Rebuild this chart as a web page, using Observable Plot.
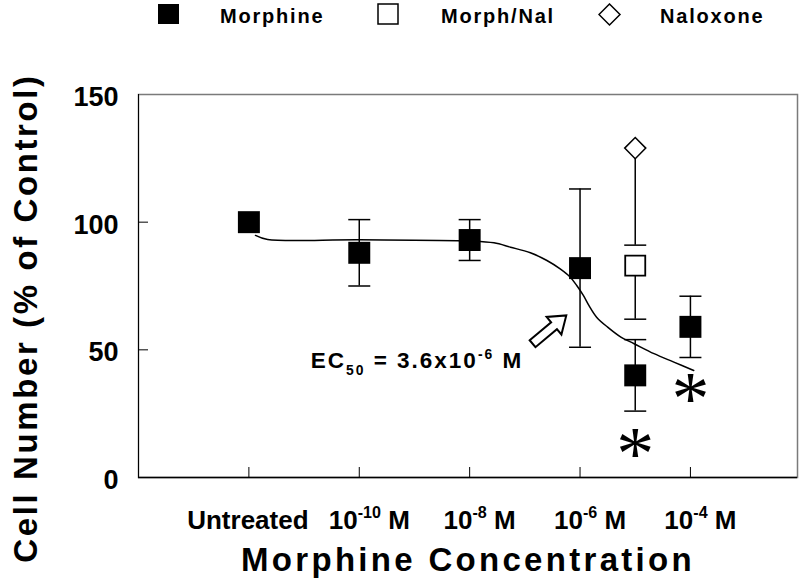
<!DOCTYPE html>
<html><head><meta charset="utf-8">
<script src="https://cdn.jsdelivr.net/npm/d3@7"></script>
<script src="https://cdn.jsdelivr.net/npm/@observablehq/plot@0.6"></script>
<style>
body{margin:0;background:#fff;font-family:"Liberation Sans",Arial,sans-serif;}
#legend{position:relative;width:800px;height:32px;}
#legend svg.sym{position:absolute;top:3px;}
#legend .lab{position:absolute;top:6px;font-weight:bold;font-size:20px;letter-spacing:1.8px;line-height:20px;}
#chart svg{display:block;}
</style></head><body>
<div id="legend"></div>
<div id="chart"></div>
<script>
// ---- data ----
const seriesNames = ["Morphine", "Morph/Nal", "Naloxone"];
const tickPositions = [0, 1, 2, 3, 4];
const tickLabels = ["Untreated", "10^{-10} M", "10^{-8} M", "10^{-6} M", "10^{-4} M"];
const yTicks = [0, 50, 100, 150];
const xTitle = "Morphine Concentration";
const yTitle = "Cell Number (% of Control)";

const morphineX = [0, 1, 2, 3, 3.5, 4];
const morphineY = [100, 88, 93, 82, 40, 59];
const morphineLo = [null, 75, 85, 51, 26, 47];
const morphineHi = [null, 101, 101, 113, 54, 71];

const morphNalX = [3.5];
const morphNalY = [83];
const morphNalLo = [62];
const morphNalHi = [null];

const naloxoneX = [3.5];
const naloxoneY = [129];
const naloxoneLo = [91];
const naloxoneHi = [null];

const fitX = [0.06, 0.17, 1.0, 2.0, 2.22, 2.37, 2.55, 2.70, 2.82, 2.91, 2.97, 3.03, 3.08, 3.15, 3.25, 3.37, 3.49, 3.67, 3.85, 4.03];
const fitY = [94.8, 93.2, 93.1, 92.6, 91.9, 90.2, 88.0, 85.0, 81.7, 78.5, 75.2, 71.3, 67.4, 62.8, 58.9, 55.0, 52.4, 48.5, 45.2, 41.9];

const sigX = [3.5, 4];
const sigY = [12.5, 34];

const ec50Label = ["EC_{50} = 3.6x10^{-6} M"];
const ec50X = [0.56];
const ec50Y = [42.7];

const arrowX = [2.57];
const arrowY = [52.4];

// ---- tables ----
function rows(name, X, Y, Lo, Hi) {
  return X.map((x, i) => ({series: name, x, y: Y[i], lo: Lo[i], hi: Hi[i]}));
}
const morphine = rows(seriesNames[0], morphineX, morphineY, morphineLo, morphineHi);
const morphNal = rows(seriesNames[1], morphNalX, morphNalY, morphNalLo, morphNalHi);
const naloxone = rows(seriesNames[2], naloxoneX, naloxoneY, naloxoneLo, naloxoneHi);
const allPts = [...morphine, ...morphNal, ...naloxone];
const bars = allPts.filter(d => d.lo != null || d.hi != null)
  .map(d => ({x: d.x, y1: d.lo ?? d.y, y2: d.hi ?? d.y}));
const caps = allPts.flatMap(d => [d.lo, d.hi].filter(v => v != null).map(v => ({x: d.x, y: v})));
const fit = fitX.map((x, i) => ({x, y: fitY[i]}));
const ticks = tickPositions.map((x, i) => ({x, label: tickLabels[i]}));
const sig = sigX.map((x, i) => ({x, y: sigY[i]}));
const ec50 = ec50Label.map((t, i) => ({x: ec50X[i], y: ec50Y[i], t}));
const arrows = arrowX.map((x, i) => ({x, y: arrowY[i]}));

const capSymbol = {draw(ctx) { ctx.moveTo(-11, 0); ctx.lineTo(11, 0); }};
const blockArrow = {draw(ctx, l) {
  const hw = 4.5, hh = 11.5, hl = 16;
  ctx.moveTo(-hw, 0); ctx.lineTo(-hw, -(l - hl)); ctx.lineTo(-hh, -(l - hl));
  ctx.lineTo(0, -l); ctx.lineTo(hh, -(l - hl)); ctx.lineTo(hw, -(l - hl));
  ctx.lineTo(hw, 0); ctx.closePath();
}};

const font = "'Liberation Sans', Arial, sans-serif";

const chart = Plot.plot({
  width: 800, height: 548,
  marginLeft: 138, marginRight: 3, marginTop: 62, marginBottom: 103,
  x: {domain: [-1, 4.97], axis: null},
  y: {domain: [0, 150], axis: null},
  style: {fontFamily: font, background: "white", color: "black", overflow: "visible"},
  marks: [
    Plot.frame({stroke: "#7a7a7a", strokeWidth: 1.5}),
    Plot.ruleX([-1], {stroke: "black", strokeWidth: 1}),
    Plot.ruleY([0], {stroke: "black", strokeWidth: 1.5}),
    Plot.ruleX(tickPositions, {y1: 0, y2: 0, insetTop: -10, stroke: "black", strokeWidth: 1}),
    Plot.ruleY(yTicks.slice(1, 3), {x1: -1, x2: -1, insetRight: -10, stroke: "black", strokeWidth: 1}),
    Plot.text(yTicks, {y: d => d, frameAnchor: "left", textAnchor: "end", dx: -20, dy: 3, fontSize: 27, fontWeight: "bold"}),
    Plot.text(ticks, {x: "x", text: "label", filter: d => !d.label.includes("^"), frameAnchor: "bottom", textAnchor: "middle", lineAnchor: "bottom", dy: 51, dx: -1, fontSize: 26, fontWeight: "bold"}),
    Plot.text(ticks, {x: "x", text: "label", filter: d => d.label.includes("^"), frameAnchor: "bottom", textAnchor: "middle", lineAnchor: "bottom", dy: 51, dx: 10, fontSize: 26, fontWeight: "bold"}),
    Plot.text([xTitle], {frameAnchor: "bottom", textAnchor: "middle", lineAnchor: "bottom", dy: 93, fontSize: 33, fontWeight: "bold"}),
    Plot.text([yTitle], {frameAnchor: "left", textAnchor: "middle", lineAnchor: "middle", rotate: -90, dx: -112, dy: 32, fontSize: 33, fontWeight: "bold"}),
    Plot.line(fit, {x: "x", y: "y", curve: "catmull-rom", stroke: "black", strokeWidth: 1.5}),
    Plot.ruleX(bars, {x: "x", y1: "y1", y2: "y2", stroke: "black", strokeWidth: 1.5}),
    Plot.dot(caps, {x: "x", y: "y", symbol: capSymbol, stroke: "black", strokeWidth: 1.5, r: 5}),
    Plot.dot(morphine, {x: "x", y: "y", symbol: "square", r: 12.4, fill: "black", stroke: "none"}),
    Plot.dot(morphNal, {x: "x", y: "y", symbol: "square", r: 11.3, fill: "white", stroke: "black", strokeWidth: 1.8}),
    Plot.dot(naloxone, {x: "x", y: "y", symbol: "diamond2", r: 9.5, fill: "white", stroke: "black", strokeWidth: 1.5}),
    Plot.text(ec50, {x: "x", y: "y", text: "t", textAnchor: "start", lineAnchor: "bottom", fontSize: 22.5, fontWeight: "bold"}),
    Plot.vector(arrows, {x: "x", y: "y", length: 44, rotate: 50, anchor: "start", shape: blockArrow, fill: "white", stroke: "black", strokeWidth: 2, strokeLinejoin: "miter"}),
    Plot.text(sig, {x: "x", y: "y", text: () => "*", fontSize: 76, fontFamily: "'Liberation Serif', serif", textAnchor: "middle", lineAnchor: "middle", dy: 9})
  ]
});
document.getElementById("chart").append(chart);

// ---- rich text (superscripts / subscripts) and letter spacing ----
d3.select(chart).selectAll("text").each(function() {
  const el = this;
  const s = el.textContent;
  if (s === xTitle) el.style.letterSpacing = "3.3px";
  if (s === yTitle) el.style.letterSpacing = "2.6px";
  if (s.startsWith("EC")) el.style.letterSpacing = "2px";
  if (!/[\^_]\{/.test(s)) return;
  const base = parseFloat(getComputedStyle(el).fontSize) || 20;
  const re = /(\^|_)\{([^}]*)\}/g;
  const segs = [];
  let last = 0, m;
  while ((m = re.exec(s))) {
    if (m.index > last) segs.push({t: s.slice(last, m.index), k: "n"});
    segs.push({t: m[2], k: m[1] === "^" ? "sup" : "sub"});
    last = re.lastIndex;
  }
  if (last < s.length) segs.push({t: s.slice(last), k: "n"});
  while (el.firstChild) el.removeChild(el.firstChild);
  let shift = 0;
  const ns = "http://www.w3.org/2000/svg";
  for (const g of segs) {
    const ts = document.createElementNS(ns, "tspan");
    let target = 0;
    if (g.k === "sup") { target = -0.42 * base; ts.setAttribute("font-size", (0.62 * base).toFixed(1)); }
    else if (g.k === "sub") { target = 0.3 * base; ts.setAttribute("font-size", (0.62 * base).toFixed(1)); }
    const dy = target - shift;
    if (dy !== 0) ts.setAttribute("dy", dy.toFixed(1));
    shift = target;
    ts.textContent = g.t;
    el.appendChild(ts);
  }
});

// ---- legend ----
const legendSym = [
  '<rect x="1" y="1" width="21" height="20" fill="black"/>',
  '<rect x="1" y="1" width="20" height="20" fill="white" stroke="black" stroke-width="1.5"/>',
  '<polygon points="11.5,1 22,11.5 11.5,22 1,11.5" fill="white" stroke="black" stroke-width="1.5"/>'
];
const legendSymX = [157, 377, 598];
const legendLabX = [220, 441, 660];
const legend = d3.select("#legend");
seriesNames.forEach((name, i) => {
  legend.append("svg").attr("class", "sym").attr("width", 24).attr("height", 24)
    .style("left", legendSymX[i] + "px").html(legendSym[i]);
  legend.append("div").attr("class", "lab").style("left", legendLabX[i] + "px").text(name);
});
</script>
</body></html>
